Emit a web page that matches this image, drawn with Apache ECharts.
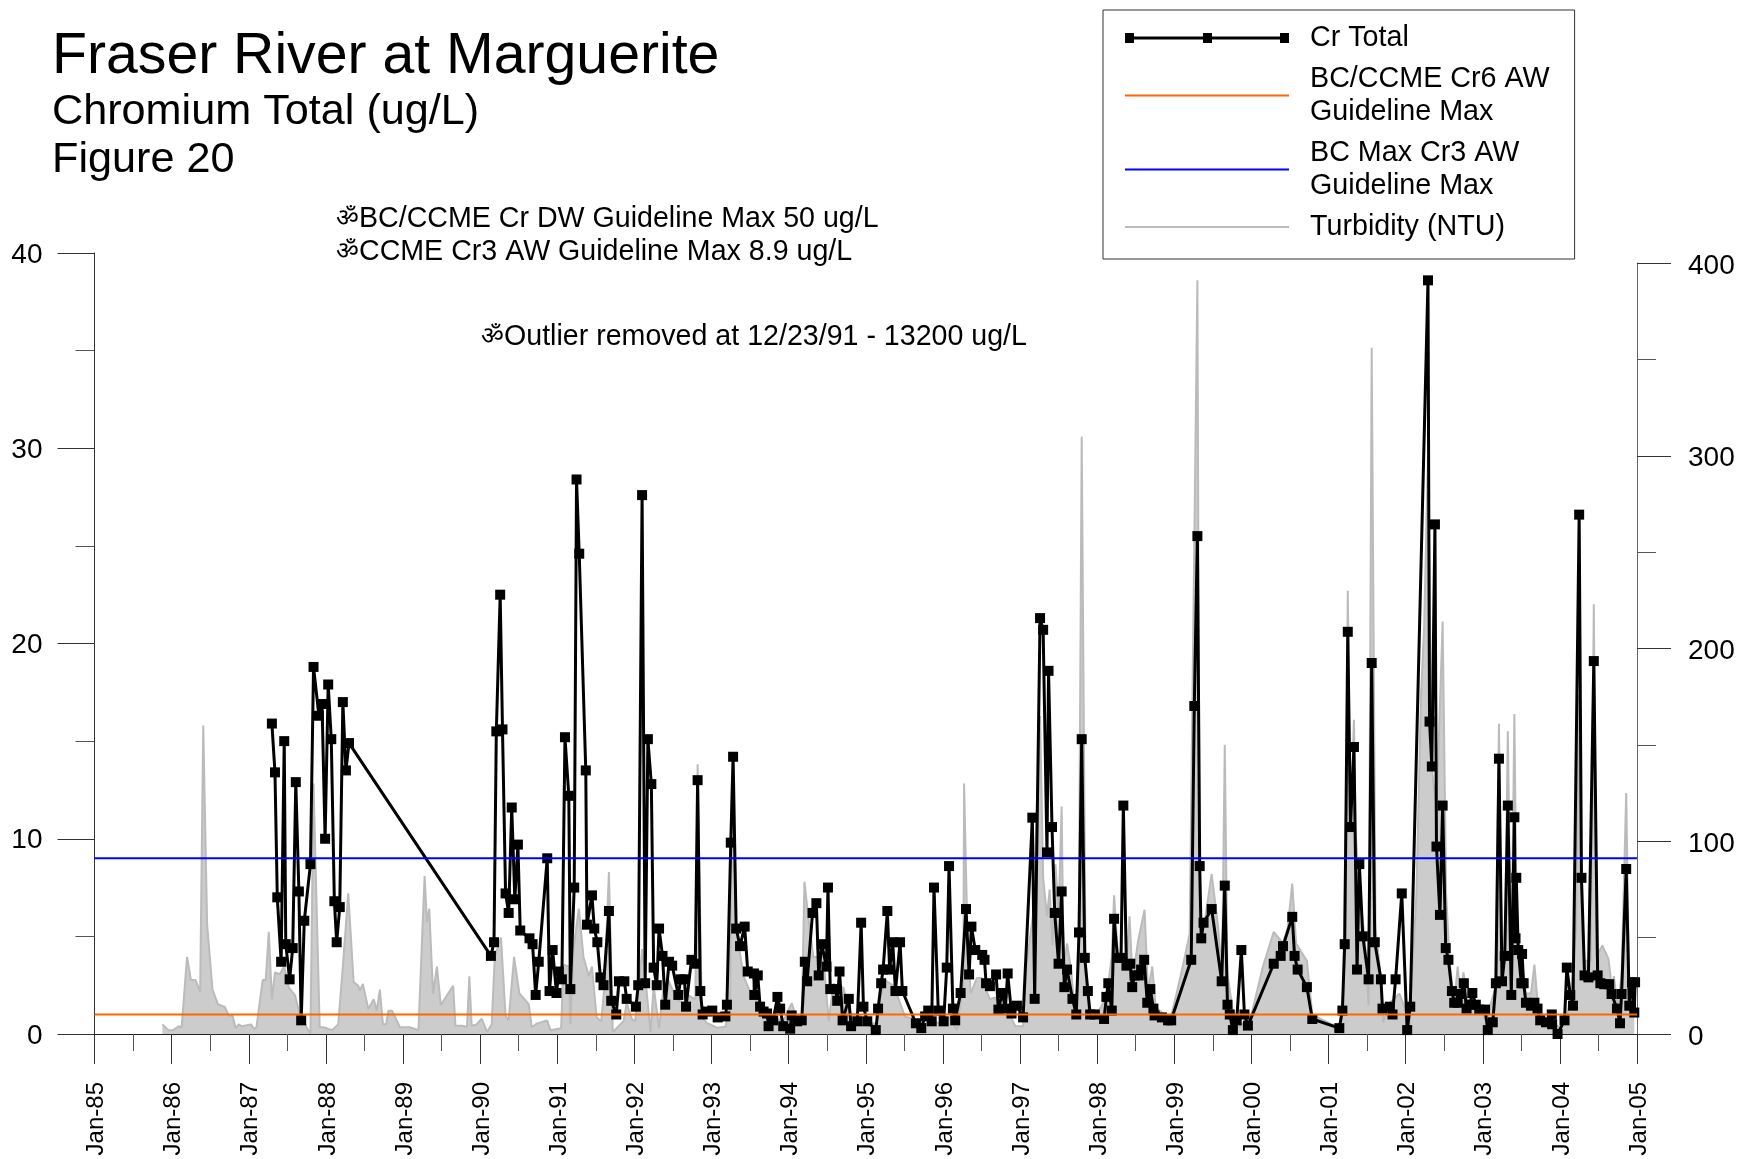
<!DOCTYPE html>
<html>
<head>
<meta charset="utf-8">
<title>Fraser River at Marguerite</title>
<script src="https://cdn.jsdelivr.net/npm/echarts@6/dist/echarts.min.js"></script>
<style>
    html, body { margin: 0; padding: 0; background: #fff; }
    #chart { width: 1741px; height: 1159px; }
</style>
</head>
<body>
<div id="chart"></div>
<script>
// decimal years, one row per calendar year
var crYears = [
    1987.30,1987.34,1987.37,1987.42,1987.46,1987.48,1987.53,1987.57,1987.61,1987.65,1987.68,1987.72,1987.80,1987.84,1987.91,1987.95,1987.99,
    1988.03,1988.07,1988.11,1988.14,1988.18,1988.22,1988.26,1988.30,
    1990.14,1990.18,1990.21,1990.26,1990.29,1990.33,1990.37,1990.41,1990.45,1990.49,1990.52,1990.64,1990.68,1990.72,1990.76,1990.87,1990.90,1990.94,1990.99,
    1991.02,1991.06,1991.10,1991.15,1991.17,1991.22,1991.25,1991.285,1991.37,1991.385,1991.45,1991.48,1991.52,1991.56,1991.60,1991.67,1991.70,1991.765,1991.80,1991.87,1991.90,
    1992.02,1992.05,1992.10,1992.14,1992.175,1992.22,1992.25,1992.29,1992.32,1992.365,1992.40,1992.45,1992.49,1992.57,1992.60,1992.65,1992.67,1992.74,1992.79,1992.82,1992.855,1992.885,1992.95,
    1993.01,1993.08,1993.18,1993.20,1993.25,1993.28,1993.32,1993.37,1993.43,1993.47,1993.55,1993.555,1993.60,1993.63,1993.675,1993.72,1993.74,1993.80,1993.855,1993.89,1993.93,
    1994.02,1994.04,1994.11,1994.17,1994.21,1994.24,1994.31,1994.36,1994.39,1994.43,1994.49,1994.51,1994.54,1994.61,1994.63,1994.66,1994.70,1994.78,1994.81,1994.89,1994.94,1994.97,
    1995.02,1995.13,1995.16,1995.20,1995.225,1995.28,1995.31,1995.35,1995.385,1995.445,1995.475,1995.65,1995.72,1995.77,1995.81,1995.855,1995.885,1995.94,
    1996.01,1996.05,1996.08,1996.13,1996.16,1996.23,1996.30,1996.34,1996.37,1996.42,1996.51,1996.54,1996.56,1996.61,1996.69,1996.72,1996.77,1996.81,1996.84,1996.89,1996.96,
    1997.04,1997.16,1997.19,1997.26,1997.30,1997.35,1997.37,1997.415,1997.45,1997.50,1997.54,1997.575,1997.61,1997.68,1997.73,1997.765,1997.80,1997.84,1997.88,1997.91,1997.97,
    1998.09,1998.12,1998.145,1998.19,1998.22,1998.265,1998.31,1998.34,1998.38,1998.43,1998.455,1998.485,1998.54,1998.57,1998.61,1998.65,1998.69,1998.73,1998.745,1998.84,1998.92,1998.96,
    1999.22,1999.26,1999.30,1999.33,1999.35,1999.38,1999.485,1999.615,1999.655,1999.69,1999.72,1999.76,1999.81,1999.87,1999.91,1999.955,
    2000.29,2000.38,2000.41,2000.53,2000.56,2000.60,2000.72,2000.79,
    2001.14,2001.18,2001.21,2001.25,2001.285,2001.33,2001.37,2001.40,2001.445,2001.52,2001.56,2001.60,2001.68,2001.70,2001.795,2001.83,2001.87,2001.95,
    2002.02,2002.06,2002.29,2002.31,2002.34,2002.38,2002.40,2002.445,2002.48,2002.52,2002.555,2002.60,2002.63,2002.675,2002.715,2002.755,2002.79,2002.83,2002.865,2002.91,2002.955,
    2003.03,2003.065,2003.13,2003.17,2003.21,2003.25,2003.285,2003.325,2003.37,2003.41,2003.425,2003.435,2003.46,2003.50,2003.51,2003.53,2003.56,2003.625,2003.67,2003.71,2003.745,2003.82,2003.895,2003.90,2003.97,
    2004.06,2004.09,2004.135,2004.17,2004.25,2004.28,2004.32,2004.37,2004.44,2004.49,2004.525,2004.575,2004.64,2004.67,2004.74,2004.78,2004.80,2004.86,2004.90,2004.935,2004.965,2004.975
];
var crValues = [
    15.9,13.4,7.0,3.7,15.0,4.6,2.8,4.4,12.9,7.3,0.7,5.8,8.7,18.8,16.3,16.9,10.0,
    17.9,15.1,6.8,4.7,6.5,17.0,13.5,14.9,
    4.0,4.7,15.5,22.5,15.6,7.2,6.2,11.6,6.9,9.7,5.3,4.9,4.6,2.0,3.7,9.0,2.2,4.3,2.1,
    3.2,2.8,15.2,12.2,2.3,7.5,28.4,24.6,13.5,5.6,7.1,5.4,4.7,2.9,2.5,6.3,1.7,1.0,2.7,2.7,1.8,
    1.4,2.5,27.6,2.6,15.1,12.8,3.4,2.5,5.4,4.0,1.5,3.7,3.5,2.0,2.8,2.8,1.4,3.8,3.6,13.0,2.2,1.0,1.15,
    1.2,0.85,0.9,1.5,9.8,14.2,5.4,4.5,5.5,3.2,3.1,2.0,3.0,1.4,1.15,1.05,0.4,0.7,1.9,1.3,0.4,
    0.27,0.95,0.65,0.7,3.7,2.7,6.2,6.7,3.0,4.6,3.45,7.5,2.3,2.3,1.7,3.2,0.7,1.8,0.4,0.65,5.7,1.4,
    0.65,0.2,1.3,2.6,3.3,6.3,3.3,4.7,2.2,4.7,2.2,0.55,0.3,0.9,1.2,0.65,7.5,1.2,
    0.65,3.4,8.6,1.3,0.7,2.1,6.4,3.05,5.5,4.3,4.05,3.8,2.6,2.45,3.05,1.25,2.1,1.3,3.1,1.05,1.45,
    0.85,11.08,1.8,21.3,20.7,9.3,18.6,10.6,6.2,3.6,7.3,2.4,3.3,1.8,1.0,5.2,15.1,3.9,2.2,1.0,1.0,
    0.77,1.9,2.6,1.2,5.9,3.9,3.9,11.7,3.5,3.6,2.4,3.0,3.0,3.3,3.8,1.6,2.3,1.3,0.95,0.85,0.7,0.7,
    3.8,16.8,25.5,8.6,4.9,5.7,6.4,2.7,7.6,1.5,1.0,0.2,0.7,4.3,1.0,0.43,
    3.6,4.0,4.5,6.0,4.0,3.3,2.4,0.77,
    0.3,1.2,4.6,20.6,10.6,14.7,3.3,8.7,5.0,2.8,19.0,4.7,2.8,1.3,1.4,1.0,2.8,7.2,
    0.2,1.4,38.6,16.0,13.7,26.1,9.6,6.1,11.7,4.4,3.8,2.2,1.6,1.6,2.05,2.6,1.3,1.5,2.1,1.5,1.25,
    1.25,0.2,0.6,2.6,14.1,2.7,4.0,11.7,2.0,11.1,4.9,8.0,4.3,2.6,4.1,2.6,1.6,1.45,1.6,1.3,0.7,0.6,1.0,0.5,0.0,
    0.7,3.4,2.0,1.45,26.6,8.0,3.0,2.9,19.1,3.0,2.6,2.55,2.55,2.05,1.3,0.55,2.05,8.45,1.45,2.65,1.1,2.65
];
var turbYears = [
    1985.88,1985.96,
    1986.02,1986.09,1986.13,1986.20,1986.25,1986.31,1986.37,1986.41,1986.46,1986.53,1986.60,1986.69,1986.74,1986.79,1986.83,1986.87,1986.91,
    1987.03,1987.07,1987.10,1987.18,1987.22,1987.26,1987.30,1987.34,1987.40,1987.46,1987.52,1987.60,1987.65,1987.75,1987.80,1987.84,1987.92,1987.97,
    1988.08,1988.16,1988.22,1988.29,1988.36,1988.42,1988.44,1988.48,1988.55,1988.62,1988.66,1988.70,1988.74,1988.78,1988.81,1988.86,1988.96,
    1989.09,1989.20,1989.28,1989.31,1989.34,1989.39,1989.44,1989.49,1989.65,1989.68,1989.76,1989.83,1989.86,1989.89,1989.95,
    1990.02,1990.09,1990.15,1990.19,1990.27,1990.33,1990.37,1990.44,1990.51,1990.63,1990.67,1990.74,1990.87,1990.91,
    1991.05,1991.08,1991.15,1991.17,1991.21,1991.28,1991.34,1991.41,1991.45,1991.51,1991.57,1991.61,1991.67,1991.72,1991.77,1991.86,1991.90,1991.97,
    1992.01,1992.07,1992.10,1992.14,1992.21,1992.25,1992.32,1992.38,1992.44,1992.55,1992.64,1992.70,1992.79,1992.82,1992.875,1992.94,
    1993.07,1993.18,1993.24,1993.265,1993.32,1993.415,1993.50,1993.61,1993.72,1993.80,1993.93,
    1994.04,1994.10,1994.17,1994.205,1994.26,1994.32,1994.45,1994.52,1994.58,1994.71,1994.80,1994.91,
    1995.02,1995.14,1995.185,1995.25,1995.36,1995.445,1995.51,1995.62,1995.75,1995.88,
    1996.01,1996.09,1996.18,1996.265,1996.275,1996.32,1996.36,1996.44,1996.50,1996.61,1996.68,1996.76,1996.89,1996.94,
    1997.04,1997.08,1997.17,1997.26,1997.30,1997.35,1997.385,1997.42,1997.46,1997.50,1997.54,1997.565,1997.61,1997.665,1997.71,1997.76,1997.80,1997.85,1997.89,1997.99,
    1998.12,1998.19,1998.22,1998.27,1998.38,1998.42,1998.46,1998.53,1998.615,1998.66,1998.715,1998.76,1998.87,1998.94,
    1999.03,1999.11,1999.20,1999.30,1999.33,1999.39,1999.485,1999.565,1999.62,1999.655,1999.69,1999.76,1999.85,
    2000.00,2000.15,2000.29,2000.41,2000.47,2000.53,2000.58,2000.72,2000.79,
    2001.14,2001.19,2001.23,2001.25,2001.285,2001.33,2001.35,2001.40,2001.47,2001.52,2001.56,2001.61,2001.68,2001.71,2001.79,2001.92,2001.985,
    2002.05,2002.14,2002.20,2002.24,2002.29,2002.34,2002.40,2002.48,2002.525,2002.57,2002.63,2002.675,2002.71,2002.75,2002.805,2002.91,
    2003.04,2003.165,2003.21,2003.25,2003.285,2003.325,2003.37,2003.41,2003.44,2003.50,2003.56,2003.625,2003.67,2003.71,2003.78,2003.91,
    2004.01,2004.08,2004.145,2004.21,2004.245,2004.275,2004.32,2004.40,2004.44,2004.475,2004.55,2004.63,2004.68,2004.70,2004.75,2004.80,2004.86,2004.90,2004.965
];
var turbValues = [
    5,2,
    2,4,3.5,40,28,28,22,160,57,23,15.5,14,9.5,9.5,3,5,4,
    5,2.6,3.5,28,28,53,18,32,31,35,24,20,12,3.5,0.3,130,3.5,3.5,
    2,5,35,73,27,25,22.5,26,13,18,12,23,5,5,12,12,3.5,
    3.5,2,82,58,65,21,35,15,25,4.3,4.3,3.8,30,4.3,4.8,
    8,1,5,40,50,9.5,7,40,21,15.5,3.5,5.5,7,2,
    3,36,35,5,44,65,40,30,35,8.6,6.6,24,84,1,3,6.6,16,7.6,
    6.6,30,44,30,1,25,3,25,28,18,16,20,18,140,8.6,5.7,
    3.3,3.7,14,130,55,30,22,16,11,8.6,6.6,
    16,8.6,8.6,79,59,40,40,6.6,26,24,10.5,10,
    6.6,5,18,28,25,16,9,8,5,7,
    4,9,2,26,130,49,21,29,29,18,19,11,8,4,
    4,35,62,165,81,61,75,46,88,62,118,35,47,33,10,36,310,36,10,10,
    19,40,72,41,35,61,28,48,64.5,22,35,14,10,6,
    21,35,52,391,55,57,83,57,31,150,31,12,3.5,
    10,35,53,47,55,78,47,38,10,
    3,21,125,230,107,163,107,73,50,15,356,55,29,6,16,21,14,
    3.5,73,176,211,300,138,116,214,73,38,16,35,19,32,17,16,
    7,24,161,28,38,157,29,166,55,38,21,21,36,17,9,5,
    3.5,7,21,55,176,73,38,38,223,40,46,39,22,30,14,30,125,21,21
];
var cr6Max = 1;
var cr3Max = 9;
var startYear = 1985;
var endYear = 2005;
var mainTitle = 'Fraser River at Marguerite';
var subTitle = 'Chromium Total (ug/L)';
var figureTitle = 'Figure 20';
var noteDw = '{o|ॐ}BC/CCME Cr DW Guideline Max 50 ug/L';
var noteAw = '{o|ॐ}CCME Cr3 AW Guideline Max 8.9 ug/L';
var noteOutlier = '{o|ॐ}Outlier removed at 12/23/91 - 13200 ug/L';

var font = '"Liberation Sans", Arial, sans-serif';

function zip(xs, ys) {
    return xs.map(function (x, i) { return [x, ys[i]]; });
}

function note(text, x, y, size) {
    return {
        type: 'text',
        x: x,
        y: y,
        style: {
            text: text,
            fontFamily: font,
            fontSize: size,
            fill: '#000',
            textVerticalAlign: 'middle',
            rich: { o: { fontFamily: font, fontSize: 25, fill: '#000' } }
        }
    };
}

// nudges a tick label along the tick direction, a plain padding does nothing here
function shiftedLabel(size, shift) {
    return {
        a: { fontFamily: font, fontSize: size, color: '#000', padding: [shift, 0, 0, 0] }
    };
}

var chart = echarts.init(document.getElementById('chart'));
var option = {
    animation: false,
    backgroundColor: '#fff',
    textStyle: { fontFamily: font },
    grid: [
        { left: 94.5, right: 104, top: 253, bottom: 125 },
        // the turbidity scale stops a little lower than the chromium one
        { left: 94.5, right: 104, top: 263, bottom: 125 }
    ],
    graphic: [
        note(mainTitle, 52, 57, 57.2),
        note(subTitle, 52, 112, 43.2),
        note(figureTitle, 52, 160, 43.2),
        note(noteDw, 336, 219, 28.6),
        note(noteAw, 336, 252, 28.6),
        note(noteOutlier, 481, 337, 28.6)
    ],
    legend: {
        left: 1103,
        top: 10,
        orient: 'vertical',
        selectedMode: false,
        padding: [10, 25, 14, 21],
        borderColor: '#333',
        borderWidth: 1,
        itemWidth: 164,
        itemHeight: 10,
        itemGap: 5,
        textStyle: { fontFamily: font, fontSize: 28.7, lineHeight: 33, color: '#000', padding: [3, 0, 0, 16] },
        data: [
            { name: 'Cr Total', icon: 'path://M0 0H9V3.5H78V0H87V3.5H155V0H164V10H155V6.5H87V10H78V6.5H9V10H0Z' },
            { name: 'BC/CCME Cr6 AW\nGuideline Max', itemStyle: { opacity: 0 } },
            { name: 'BC Max Cr3 AW\nGuideline Max', itemStyle: { opacity: 0 } },
            { name: 'Turbidity (NTU)', itemStyle: { opacity: 0 } }
        ]
    },
    xAxis: [
        {
            type: 'value',
            gridIndex: 0,
            min: startYear,
            max: endYear,
            interval: 1,
            splitLine: { show: false },
            axisLine: { onZero: false, lineStyle: { color: '#222', width: 1 } },
            axisTick: { show: true, length: 30, lineStyle: { color: '#333', width: 1 } },
            minorTick: { show: true, splitNumber: 2, length: 17, lineStyle: { color: '#555', width: 1 } },
            axisLabel: {
                rotate: 90,
                margin: 48,
                rich: shiftedLabel(24, 4),
                formatter: function (v) {
                    return '{a|Jan-' + String(v % 100).padStart(2, '0') + '}';
                }
            }
        },
        {
            type: 'value',
            gridIndex: 1,
            min: startYear,
            max: endYear,
            show: false
        }
    ],
    yAxis: [
        {
            type: 'value',
            gridIndex: 0,
            min: 0,
            max: 40,
            interval: 10,
            splitLine: { show: false },
            axisLine: { show: true, lineStyle: { color: '#333', width: 1 } },
            axisTick: { show: true, length: 37, lineStyle: { color: '#333', width: 1 } },
            minorTick: { show: true, splitNumber: 2, length: 19, lineStyle: { color: '#555', width: 1 } },
            axisLabel: { margin: 52, rich: shiftedLabel(28, 4), formatter: '{a|{value}}' }
        },
        {
            type: 'value',
            gridIndex: 1,
            position: 'right',
            min: 0,
            max: 400,
            interval: 100,
            splitLine: { show: false },
            axisLine: { show: true, lineStyle: { color: '#666', width: 1 } },
            axisTick: { show: true, length: 34, lineStyle: { color: '#333', width: 1 } },
            minorTick: { show: true, splitNumber: 2, length: 19, lineStyle: { color: '#555', width: 1 } },
            axisLabel: { margin: 51, rich: shiftedLabel(28, 6), formatter: '{a|{value}}' }
        }
    ],
    series: [
        {
            name: 'Turbidity (NTU)',
            type: 'line',
            xAxisIndex: 1,
            yAxisIndex: 1,
            z: 1,
            showSymbol: false,
            symbol: 'none',
            lineStyle: { color: '#bbbbbb', width: 2 },
            itemStyle: { color: '#bbbbbb' },
            areaStyle: { color: '#cccccc', opacity: 1 },
            data: zip(turbYears, turbValues)
        },
        {
            name: 'Cr Total',
            type: 'line',
            xAxisIndex: 0,
            yAxisIndex: 0,
            z: 3,
            symbol: 'rect',
            symbolSize: 10,
            showAllSymbol: true,
            lineStyle: { color: '#000', width: 3 },
            itemStyle: { color: '#000' },
            data: zip(crYears, crValues)
        },
        {
            name: 'BC/CCME Cr6 AW\nGuideline Max',
            type: 'line',
            xAxisIndex: 0,
            yAxisIndex: 0,
            z: 5,
            symbol: 'none',
            lineStyle: { color: '#ff6600', width: 2 },
            itemStyle: { color: '#ff6600' },
            data: [[startYear, cr6Max], [endYear, cr6Max]]
        },
        {
            name: 'BC Max Cr3 AW\nGuideline Max',
            type: 'line',
            xAxisIndex: 0,
            yAxisIndex: 0,
            z: 5,
            symbol: 'none',
            lineStyle: { color: '#0000ff', width: 2 },
            itemStyle: { color: '#0000ff' },
            data: [[startYear, cr3Max], [endYear, cr3Max]]
        }
    ]
};

chart.setOption(option);
</script>
</body>
</html>
